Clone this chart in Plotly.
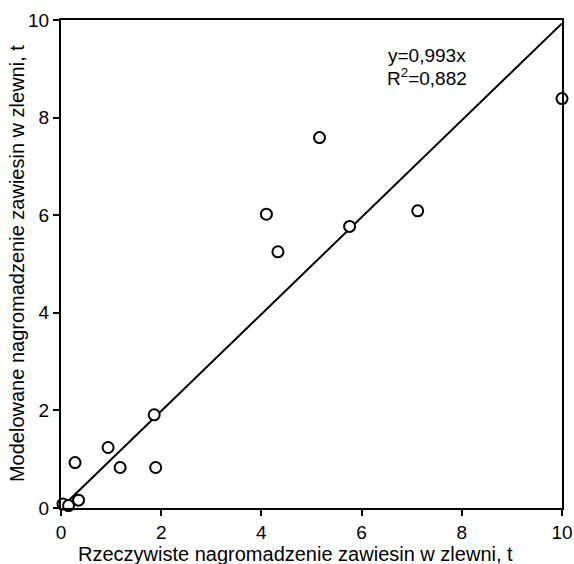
import plotly.graph_objects as go

# Data
actual = [0.04, 0.15, 0.35, 0.28, 0.94, 1.18, 1.86, 1.89, 4.10, 4.33, 5.16, 5.76, 7.12, 10.0]
modeled = [0.08, 0.05, 0.16, 0.93, 1.24, 0.83, 1.91, 0.83, 6.02, 5.25, 7.59, 5.77, 6.09, 8.39]
slope = 0.993
line_x = [0, 10]
line_y = [slope * v for v in line_x]
tick_vals = [0, 2, 4, 6, 8, 10]
x_title = "Rzeczywiste nagromadzenie zawiesin w zlewni, t"
y_title = "Modelowane nagromadzenie zawiesin w zlewni, t"
eq_text = "y=0,993x"
r2_text = "R<sup>2</sup>=0,882"

font_family = "Liberation Sans, Arial, sans-serif"

fig = go.Figure()
fig.add_trace(go.Scatter(x=line_x, y=line_y, mode="lines",
                         line=dict(color="black", width=2), showlegend=False,
                         cliponaxis=False))
fig.add_trace(go.Scatter(x=actual, y=modeled, mode="markers",
                         marker=dict(symbol="circle", size=11, color="white",
                                     line=dict(color="black", width=2)),
                         showlegend=False, cliponaxis=False))

fig.add_annotation(x=7.31, y=9.27, xref="x", yref="y", text=eq_text, showarrow=False,
                   font=dict(family=font_family, size=19, color="black"))
fig.add_annotation(x=7.31, y=8.83, xref="x", yref="y", text=r2_text, showarrow=False,
                   font=dict(family=font_family, size=19, color="black"))

fig.add_annotation(x=0.469, y=-0.094, xref="paper", yref="paper", text=x_title,
                   showarrow=False, xanchor="center", yanchor="middle",
                   font=dict(family=font_family, size=20, color="black"))
fig.add_annotation(x=-0.0877, y=0.5, xref="paper", yref="paper", text=y_title,
                   showarrow=False, xanchor="center", yanchor="middle", textangle=-90,
                   font=dict(family=font_family, size=20, color="black"))

axis_common = dict(range=[0, 10], tickvals=tick_vals, showgrid=False, zeroline=False,
                   showline=True, linecolor="black", linewidth=2, mirror=True,
                   ticks="outside", ticklen=6, tickwidth=1.5, tickcolor="black",
                   automargin=False,
                   tickfont=dict(family=font_family, size=19, color="black"))

fig.update_xaxes(**axis_common)
fig.update_yaxes(**axis_common)

fig.update_layout(width=574, height=564, plot_bgcolor="white", paper_bgcolor="white",
                  margin=dict(l=61, r=12, t=20, b=56))

fig.write_html("out.html", config={"displayModeBar": False},
               post_script="document.body.style.margin='0';document.body.style.overflow='hidden';")
